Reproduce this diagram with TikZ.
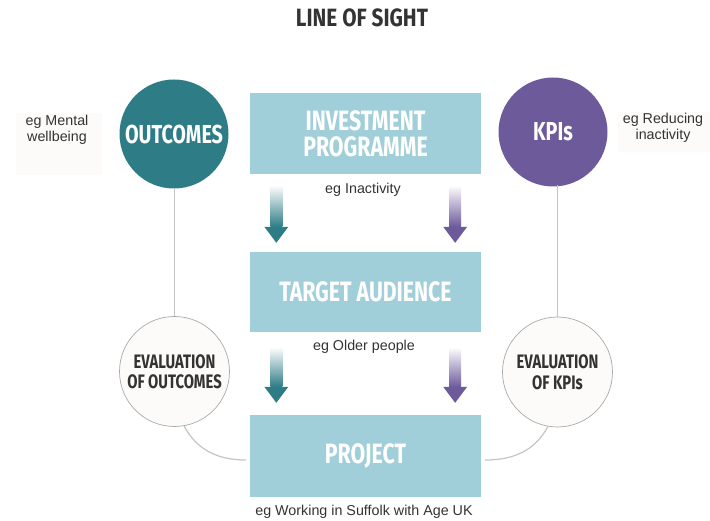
\documentclass[tikz,border=0pt]{standalone}
\usepackage{fontspec}
\setmainfont{Liberation Sans}
\newfontfamily\headfont[FakeStretch=0.76]{Fira Sans}
\newfontfamily\titlefont[FakeStretch=0.83]{Fira Sans}
\usetikzlibrary{calc,positioning}
\definecolor{SightInk}{HTML}{333333}
\definecolor{SightBox}{HTML}{A1CFD9}
\definecolor{SightTeal}{HTML}{2E7D86}
\definecolor{SightPurple}{HTML}{6D5A9B}
\definecolor{SightLine}{HTML}{C4C4C4}
\definecolor{SightRing}{HTML}{A9A9A9}
\definecolor{SightPaper}{HTML}{FCFBF9}
\tikzset{
  every node/.style={text=SightInk},
  heading/.style={font=\titlefont\bfseries\fontsize{25}{25}\selectfont},
  stage/.style={fill=SightBox, draw=none, minimum width=231, minimum height=81,
    inner sep=0pt, align=center, text=white,
    font=\headfont\bfseries\fontsize{28}{26}\selectfont},
  goal/.style={circle, draw=none, minimum size=109, inner sep=0pt, text=white,
    font=\headfont\bfseries\fontsize{26}{26}\selectfont},
  review/.style={circle, draw=SightRing, line width=0.7pt, fill=SightPaper,
    minimum size=110, inner sep=0pt, align=center,
    font=\headfont\bfseries\fontsize{19.5}{20.5}\selectfont},
  example/.style={font=\fontsize{14.3}{16}\selectfont, align=center, inner sep=1pt},
  link/.style={draw=SightLine, line width=1.2pt},
}
% block arrow with a fading shaft: #1 top, #2 tip, #3 colour
\newcommand{\flowarrow}[3]{%
  \shade[top color=white, bottom color=#3] ($(#1)+(-6,0)$) rectangle ($(#2)+(6,-16)$);
  \fill[#3] ($(#2)+(-12,-16)$) -- ($(#2)+(12,-16)$) -- (#2) -- cycle;
}

\begin{document}
\begin{tikzpicture}[x=1pt,y=-1pt]
  \useasboundingbox (0,0) rectangle (710,521);
  % Title
  \node[heading] (title) at (362,18) {LINE OF SIGHT};
  % The three stages
  \node[stage] (inv) at (365.5,133.5) {INVESTMENT\\PROGRAMME};
  \node[stage, minimum height=80] (aud) at (365.5,292) {TARGET AUDIENCE};
  \node[stage, minimum height=82] (proj) at (365.5,456) {PROJECT};
  % Examples under each stage
  \node[example] (invnote) at (363,190) {eg Inactivity};
  \node[example] (audnote) at (364,347) {eg Older people};
  \node[example] (projnote) at (364,512) {eg Working in Suffolk with Age UK};
  % Outcomes and KPIs
  \node[goal, fill=SightTeal] (outc) at (174,134) {OUTCOMES};
  \node[goal, fill=SightPurple] (kpi) at (553,132) {KPIs};
  \fill[SightPaper] (16,113) rectangle (102,175);
  \node[example] (outcnote) at (57,130) {eg Mental\\wellbeing};
  \fill[SightPaper] (618,112) rectangle (710,152);
  \node[example] (kpinote) at (663,128) {eg Reducing\\inactivity};
  % Evaluation circles
  \node[review] (evo) at (174.5,371.5) {EVALUATION\\OF OUTCOMES};
  \node[review] (evk) at (557.5,372) {EVALUATION\\OF KPIs};
  % Grey links
  \draw[link] (evo.north) -- (evo.north |- outc.south);
  \draw[link] (evk.north) -- ($(evk.north |- kpi.south)+(0,-2)$);
  \draw[link] (evo.-80) to[out=-62,in=180] ($(proj.west)+(-4,4)$);
  \draw[link] (evk.-100) to[out=-118,in=0] ($(proj.east)+(4,4)$);
  % Block arrows between the stages
  \flowarrow{$(inv.south west)+(26.5,11)$}{$(aud.north west)+(26.5,-9)$}{SightTeal}
  \flowarrow{$(inv.south east)+(-26,11)$}{$(aud.north east)+(-26,-9)$}{SightPurple}
  \flowarrow{$(aud.south west)+(26.5,15)$}{$(proj.north west)+(26.5,-12)$}{SightTeal}
  \flowarrow{$(aud.south east)+(-26,15)$}{$(proj.north east)+(-26,-12)$}{SightPurple}
\end{tikzpicture}
\end{document}
